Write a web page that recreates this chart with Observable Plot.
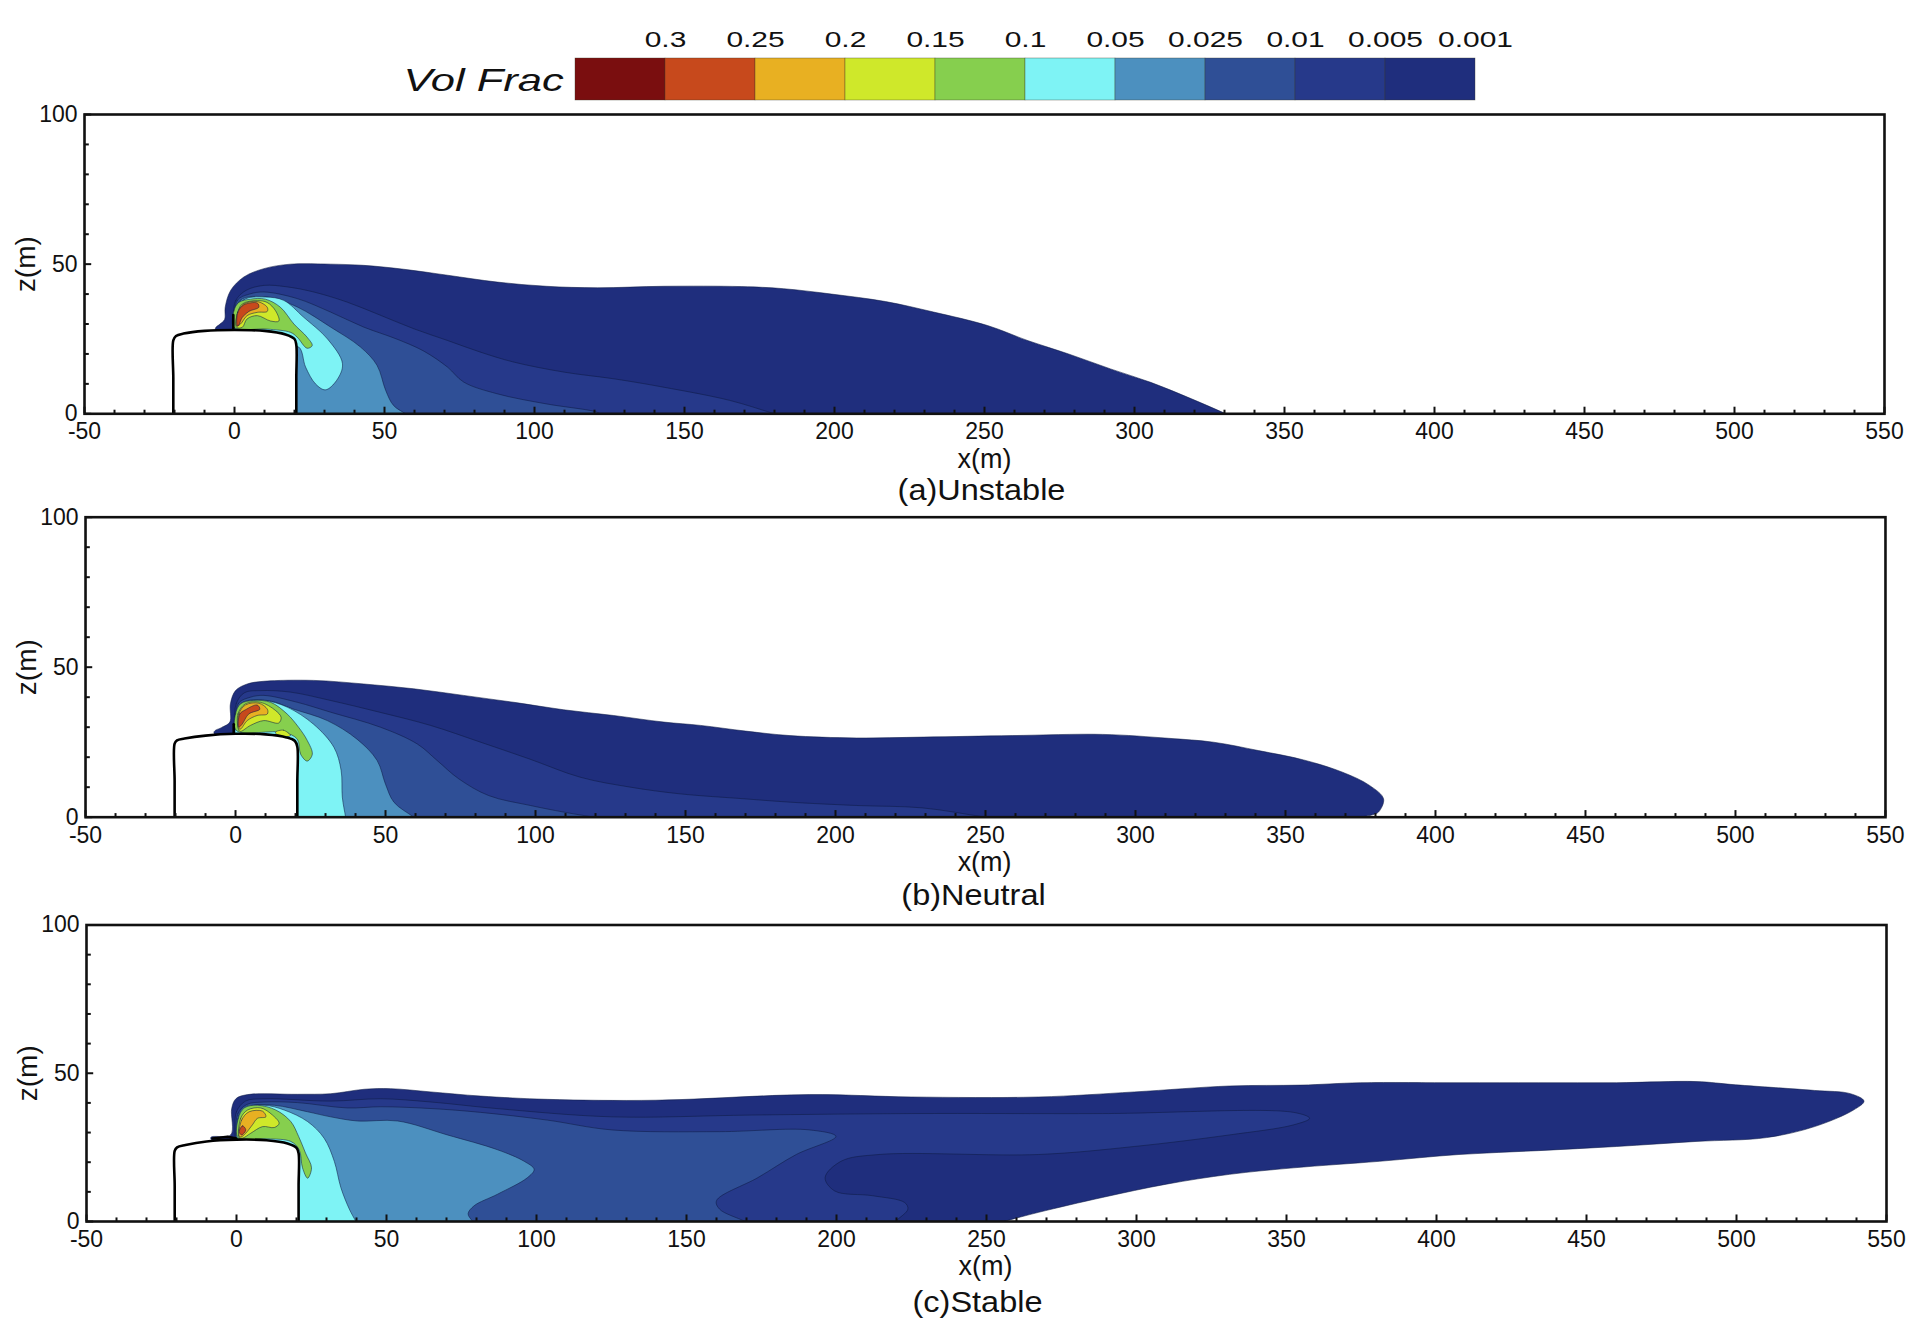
<!DOCTYPE html>
<html>
<head>
<meta charset="utf-8">
<script src="https://cdn.jsdelivr.net/npm/d3@7"></script>
<script src="https://cdn.jsdelivr.net/npm/@observablehq/plot@0.6"></script>
<style>
html,body{margin:0;padding:0;background:#fff;overflow:hidden;width:1920px;height:1329px}
#root{position:relative;width:1920px;height:1329px}
#root>div{position:absolute;left:0}
svg{display:block;max-width:none!important}
</style>
</head>
<body>
<div id="root"></div>
<script>
// Legend
const legendLabels = ["0.3","0.25","0.2","0.15","0.1","0.05","0.025","0.01","0.005","0.001"];
const legendColors = ["#7a0e0f","#c7491c","#e8b022","#cfe82a","#86cf4e","#7ef3f5","#4c90bf","#2f4f96","#26398a","#1f2e7d"];
const legendTitle = "Vol Frac";

// Axis ticks
const xMajor = [-50,0,50,100,150,200,250,300,350,400,450,500,550];
const xMinor = [-40,-30,-20,-10,10,20,30,40,60,70,80,90,110,120,130,140,160,170,180,190,210,220,230,240,260,270,280,290,310,320,330,340,360,370,380,390,410,420,430,440,460,470,480,490,510,520,530,540];
const zMajor = [0,50,100];
const zMinor = [10,20,30,40,60,70,80,90];

// Panel (a) Unstable: contour outlines [x (m), z (m)]
const aBuilding = [[-20.4,0],[-20.4,12],[-20.4,24.5],[-19.5,26],[-17,26.8],[-10,27.7],[0,28],[10,27.7],[17,26.5],[20,25],[20.6,23],[20.6,12],[20.6,0]];
const aWall = [[-0.4,28],[-0.4,33]];
const a001 = [[-6.4,28.4],[-4.8,30],[-3.3,31.5],[-3.1,35.6],[-1.3,41.2],[3.1,45.7],[9.8,48.5],[18.7,50],[32,50],[43,49.6],[56.4,48.3],[71,46.3],[87.6,44],[104,42.6],[121,42.1],[143,42.6],[169,42.5],[183,41.8],[199,40],[217,37.5],[233,34],[251,29.5],[264.6,24.4],[278,20],[292,15],[305.4,10.5],[319,5],[330.5,0]];
const a005 = [[-0.5,30],[0.4,37.8],[3.8,41.2],[9.8,42.9],[17.6,42.4],[26.4,40.7],[37.6,37.3],[48.7,32.9],[59.8,28.4],[71,24.5],[82,20.6],[93,17.3],[110,13.9],[126.4,11.7],[143,8.9],[165,4.5],[180,0]];
const a01 = [[-0.3,30],[1,38],[5,40],[9.8,40.7],[20.9,38.5],[32,34],[43,29],[54,25],[63,21],[71,15.6],[76.4,10.6],[87.5,6.7],[104,3.3],[120,0.8],[122,0]];
const a025 = [[0,30],[2,38],[10.9,39],[20.9,35.7],[32,29],[42,22.3],[47.5,16.2],[50.4,7.8],[53,2.8],[57,0]];
const a05 = [[0,30],[3,38],[10.3,39],[16.4,37.9],[23,32.3],[31,25],[36,16.7],[34,11.1],[30.3,8],[27,10],[23.7,15.6],[21.4,22.3],[15,22],[5,26]];
const a1 = [[-0.2,28.9],[-0.2,34.4],[1.4,37.2],[5.3,38.3],[10.3,38.3],[15.3,35.6],[19.8,30],[24.2,25.6],[25.9,22.8],[24.2,21.9],[20.9,25.6],[18.7,27.2],[10.9,28.3]];
const a15 = [[0.7,28.9],[0.9,33.3],[2.6,36.7],[7.6,37.8],[10.9,37.2],[13.7,34.4],[14.8,31],[12,31],[7.6,32.8],[4.2,31.7],[2.6,28.9]];
const a2 = [[0.7,29.4],[1.1,33.9],[3.1,36.7],[7.6,37.5],[10.9,35.6],[10.9,34.2],[7.6,33.9],[4.2,32.8],[2,30]];
const a25 = [[0.9,29.4],[1.1,33.9],[3.1,36.4],[7.6,37],[8.1,35.6],[4.8,34.2],[2.6,32.2],[1.2,29.3]];

// Panel (b) Neutral
const bBuilding = [[-20.3,0],[-20.3,12],[-20.3,24.5],[-19.5,25.6],[-17,26.2],[-10,27.2],[0,27.8],[10,27.6],[17,26.6],[19.8,25.4],[20.6,23.5],[20.6,12],[20.6,0]];
const bWall = [[-0.6,28],[-0.6,31]];
const b001 = [[-7.2,28.3],[-4.4,30],[-1.9,31.7],[-1.7,37.8],[0,42.2],[3.9,44.4],[9.4,45.3],[26,45.6],[42.8,44.4],[59.4,42.8],[76,40.6],[92.8,38.3],[109.4,35.8],[126,33.9],[142.8,31.7],[155,30.6],[170,28.7],[184.8,27.2],[207,26.4],[229.4,26.7],[259,27.2],[289,27.6],[311,26.3],[326,25],[341,22.2],[356,19.1],[369,15],[378,10.6],[382.7,6.1],[381,1.7],[379,0.8],[375,0]];
const b005 = [[-0.5,30],[0.3,38],[3,41.5],[8.3,42.2],[18.3,41.7],[31.7,38.9],[48,35],[65,30.6],[81.7,25],[98,19.4],[115,13.3],[131.7,10],[148,7.8],[170,6.1],[185,5],[207,3.9],[229,3.1],[250,0]];
const b01 = [[-0.3,30],[1,38],[5,40],[9.4,40.6],[20.6,38.3],[31.7,35],[48.3,30],[60.6,24.4],[67.2,18.9],[74.4,12.8],[84.4,7.2],[98.3,3.9],[109.4,1.7],[119.4,0]];
const b025 = [[0,30],[2,38],[10.6,38.9],[19.4,36],[30.6,32.2],[40.5,26],[47.2,18.9],[50,11],[52.8,5],[59.4,0]];
const b05 = [[0,30],[3,38],[9.4,38.9],[17.2,36.7],[26,31],[32.8,23.3],[35.2,15.6],[35.6,6.7],[36.7,0]];
const b1 = [[0.3,28.9],[0,34.4],[1.7,37.8],[6.1,38.9],[11.7,38.3],[17.2,34.4],[21,30],[23.9,25.6],[25.6,21],[23.9,18.7],[21.7,21],[20.6,26],[16,28.3]];
const b15 = [[1.1,29],[0.8,34.4],[3.3,37.8],[8.3,38.3],[13.3,35.6],[15.2,33.3],[14.4,31.4],[9.4,32.2],[5,30.6],[1.7,28.6]];
const b15patch = [[13.3,28.3],[16,29],[18.3,27.2],[15,26.8]];
const b2 = [[1.1,29.5],[1.1,34.4],[3.3,37.4],[7.8,38],[10.6,36],[10.6,34.4],[7.2,33.9],[3.9,32.2],[1.7,29.4]];
const b25 = [[1.1,30],[1.4,34.4],[3.3,35.8],[7.2,37.4],[8.1,36],[4.4,34.4],[2.2,31]];

// Panel (c) Stable
const cBuilding = [[-20.6,0],[-20.6,12],[-20.6,23.8],[-19.8,25],[-17,25.8],[-10,27],[0,27.6],[10,27.4],[17,26.3],[20,24.8],[20.7,23],[20.7,12],[20.7,0]];
const cWall = [[-8,28],[-3,28.6],[0,28]];
const c001 = [[-8.6,28.3],[-1.9,29.2],[-1.6,38.1],[-0.2,41.4],[3.7,42.8],[20.3,42.9],[31.4,43.1],[42.6,44.6],[51.4,44.8],[64.8,43.7],[81.4,42.3],[103.6,41.2],[139.8,40.9],[190.9,42.8],[224.9,42],[267.4,42],[299.3,43.7],[331,45.7],[354.8,46],[374.6,46.8],[407.5,46.8],[433.9,46.8],[460,46.8],[486.5,47.2],[499.7,46.1],[526,44.2],[538,43.1],[542.5,40.6],[539,37.6],[526,32],[510,28.3],[486.5,27],[460,25.3],[434,23.9],[407.5,22.6],[381,20.3],[352.4,18.1],[331,15.9],[310,12.6],[288.6,8.1],[267.4,3.1],[255.7,0]];
const c005 = [[-0.5,29],[0,37],[3,40.6],[9.2,41.4],[31.4,40.6],[48,41.4],[64.8,40.3],[86.7,38.1],[125,35.3],[171.7,35.9],[224.9,36.4],[288.6,36.4],[352.4,36.8],[357.7,34.8],[352.4,32.6],[331,29.2],[299.3,25.3],[267.4,22.6],[214.2,22.6],[201.5,20.3],[196.2,14.8],[199.4,10.3],[212,8.7],[222.7,6.4],[223.8,4.2],[219.6,0]];
const c01 = [[-0.3,29],[0.5,36.5],[3.5,39.5],[9.2,40.3],[20.3,40.1],[36.9,38.3],[48,38.7],[64.8,38.1],[81.4,36.8],[103.6,34.2],[125,30.9],[161,30.3],[190.9,30.9],[199.8,28.7],[186.6,22.6],[173.8,14.8],[160,7],[161,4.2],[169.6,0]];
const c025 = [[0,29],[1.5,37],[5,39],[12.6,39.2],[23.7,37],[31.4,35.3],[40.3,33.9],[53.7,33.9],[70.3,29.2],[87,24.2],[95.9,20.3],[99.2,17.6],[97,14.8],[87,9.2],[79.2,5.3],[77.2,2.6],[78.7,0]];
const c05 = [[0,29],[2,38],[9.2,39.2],[15.9,37.6],[23.7,33.7],[29.2,28.1],[32.6,20.3],[34.8,11.4],[37.6,4.2],[39.8,0]];
const c1 = [[0.6,28.1],[0.6,34.8],[2.6,38.3],[7,39.2],[13.1,37.6],[18.1,33.7],[20.7,28.7],[23,23.1],[25,18.1],[23.7,14.6],[22,18.1],[20.9,24.2],[18.1,27],[10.3,27.9]];
const c15 = [[0.9,28.3],[1.4,34.8],[3.7,37.6],[8.1,38.3],[12,35.9],[14.2,33.1],[12.6,31.7],[8.7,32],[4.8,29.8],[2,28.1]];
const c2 = [[0.9,28.7],[1.7,34.2],[4.2,37],[8.7,37.2],[9.8,35.3],[7,34.8],[5.3,32.6],[3.1,29.8],[1.5,28.5]];
const c25 = [[0.9,30.3],[2,32.3],[3.1,30.9],[1.7,29.2]];

const font = "'Liberation Sans', Arial, sans-serif";
const ink = "#111";
const seam = "#0f1c45";

const toRows = (pts) => pts.map(([x, z]) => ({x, z}));
// The band carries on through the ground along its last direction, then returns
// beneath the ground and the building, where the frame clip and the building hide it.
const toGround = (pts) => {
  const [x1, z1] = pts[pts.length - 2];
  const [x2, z2] = pts[pts.length - 1];
  const past = x2 + (x2 - x1) * 4 / (z1 - z2);
  return [...pts, [past, -4], [0, -4], [0, 20]];
};

function band(pts, fill, grounded) {
  return Plot.line(toRows(grounded ? toGround(pts) : pts), {
    x: "x", y: "z", fill, stroke: seam, strokeWidth: 1, strokeOpacity: 0.55,
    curve: "catmull-rom-closed", clip: true
  });
}

function panel(top, marginTop, innerH, marginBottom, xLeft, spec) {
  const width = 1920;
  const px = 3; // 3 px per metre, from the -50..550 span of the axis
  const height = marginTop + innerH + marginBottom;
  const [xl, zl, cap] = spec.textAt;
  const plot = Plot.plot({
    width, height,
    marginTop, marginBottom,
    marginLeft: xLeft, marginRight: width - xLeft - 600 * px,
    x: {domain: [-50, 550], axis: null},
    y: {domain: [0, 100], axis: null},
    style: {fontFamily: font, background: "transparent", color: ink},
    marks: [
      band(spec.c001, legendColors[9], true),
      band(spec.c005, legendColors[8], true),
      band(spec.c01, legendColors[7], true),
      band(spec.c025, legendColors[6], true),
      band(spec.c05, legendColors[5], spec.c05closed !== true),
      band(spec.c1, legendColors[4], false),
      band(spec.c15, legendColors[3], false),
      ...(spec.c15b ? [band(spec.c15b, legendColors[3], false)] : []),
      band(spec.c2, legendColors[2], false),
      band(spec.c25, legendColors[1], false),
      Plot.line(toRows(spec.wall), {x: "x", y: "z", stroke: "#000", strokeWidth: 2.6}),
      Plot.line(toRows(spec.building), {x: "x", y: "z", fill: "white", stroke: "#000", strokeWidth: 2.6, curve: "catmull-rom", clip: true}),
      Plot.ruleX(xMajor, {y1: 0, y2: 2.2, stroke: ink, strokeWidth: 2}),
      Plot.ruleX(xMinor, {y1: 0, y2: 1.2, stroke: ink, strokeWidth: 2}),
      Plot.ruleY(zMajor, {x1: -50, x2: -47.6, stroke: ink, strokeWidth: 2}),
      Plot.ruleY(zMinor, {x1: -50, x2: -48.4, stroke: ink, strokeWidth: 2}),
      Plot.frame({stroke: ink, strokeWidth: 2.6}),
      Plot.axisX(xMajor, {tickSize: 0, tickPadding: 9, fontSize: 23, label: null, tickFormat: (d) => String(d)}),
      Plot.axisY(zMajor, {tickSize: 0, tickPadding: 7, fontSize: 23, label: null, tickFormat: (d) => String(d)}),
      Plot.text(["z(m)"], {frameAnchor: "left", y: [zl], dx: -58, rotate: -90, textAnchor: "middle", fontSize: 28, fill: ink}),
      Plot.text(["x(m)"], {x: [xl], frameAnchor: "bottom", dy: spec.xDy, fontSize: 27, fill: ink}),
      Plot.text([spec.caption], {x: [cap], frameAnchor: "bottom", dy: spec.capDy, fontSize: 29, fill: ink, className: "wideB"})
    ]
  });
  const holder = document.createElement("div");
  holder.style.top = top + "px";
  holder.appendChild(plot);
  document.getElementById("root").appendChild(holder);
  return plot;
}

function stretch(svg, selector, factor) {
  d3.select(svg).selectAll(selector).each(function () {
    const w = this.getComputedTextLength();
    this.setAttribute("textLength", w * factor);
    this.setAttribute("lengthAdjust", "spacingAndGlyphs");
  });
}

// Legend bar
const legendRows = legendLabels.map((label, i) => ({i, label, color: legendColors[i]}));
const legend = Plot.plot({
  width: 1920, height: 104,
  marginLeft: 575, marginRight: 445, marginTop: 58, marginBottom: 4,
  x: {domain: [0, 10], axis: null},
  y: {domain: [0, 1], axis: null},
  color: {type: "identity"},
  style: {fontFamily: font, background: "transparent", color: ink},
  marks: [
    Plot.rect(legendRows, {x1: "i", x2: (d) => d.i + 1, y1: 0, y2: 1, fill: "color", stroke: "#3a3a2a", strokeWidth: 0.6, strokeOpacity: 0.6}),
    Plot.text(legendRows, {x: (d) => d.i + 1, y: 1, dy: -19, text: "label", fontSize: 22, fill: ink, className: "wideL"}),
    Plot.text([legendTitle], {x: [-0.13], y: [0.5], dy: 1, textAnchor: "end", fontSize: 32, fontStyle: "italic", fill: ink, className: "wideL"})
  ]
});
const legendHolder = document.createElement("div");
legendHolder.style.top = "0px";
legendHolder.appendChild(legend);
document.getElementById("root").appendChild(legendHolder);

const pa = panel(90, 24, 299.3, 95, 84, {
  building: aBuilding, wall: aWall, c001: a001, c005: a005, c01: a01, c025: a025, c05: a05, c05closed: true, c1: a1, c15: a15, c2: a2, c25: a25,
  textAt: [250, 50, 249], caption: "(a)Unstable", xDy: 54, capDy: 86
});
const pb = panel(490, 26.7, 300, 95, 85, {
  building: bBuilding, wall: bWall, c001: b001, c005: b005, c01: b01, c025: b025, c05: b05, c1: b1, c15: b15, c15b: b15patch, c2: b2, c25: b25,
  textAt: [249.7, 50, 246], caption: "(b)Neutral", xDy: 54, capDy: 87.5
});
const pc = panel(900, 24.5, 296.5, 100, 86, {
  building: cBuilding, wall: cWall, c001: c001, c005: c005, c01: c01, c025: c025, c05: c05, c1: c1, c15: c15, c2: c2, c25: c25,
  textAt: [249.7, 50, 247], caption: "(c)Stable", xDy: 53, capDy: 90
});

stretch(legend, ".wideL text", 1.36);
for (const p of [pa, pb, pc]) {
  stretch(p, ".wideB text", 1.12);
}
</script>
</body>
</html>
